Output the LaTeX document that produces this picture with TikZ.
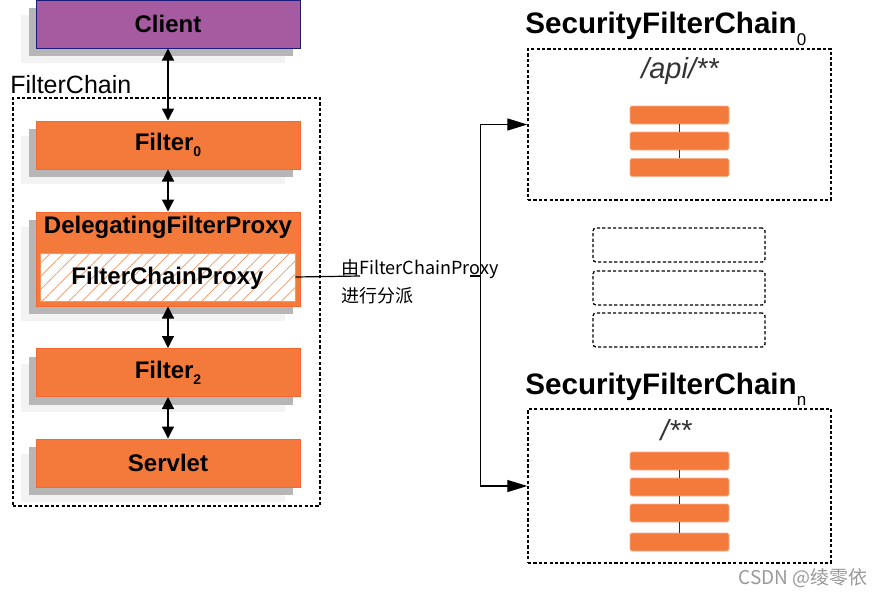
\documentclass[tikz,border=0pt]{standalone}
\usepackage{fontspec}
\setmainfont{Liberation Sans}
\newfontfamily\cjkfont{Noto Sans CJK SC}
\usetikzlibrary{arrows.meta,shadows,patterns.meta}

\definecolor{springorange}{HTML}{F47A3C}
\definecolor{springpurple}{HTML}{A65BA1}
\definecolor{clientblue}{HTML}{1C1C78}
\definecolor{shadowgray}{HTML}{B6B6B6}
\definecolor{shadowfaint}{HTML}{F3F3F3}

\tikzset{
  shadowed/.style={
    general shadow={shadow xshift=-7.5pt, shadow yshift=-7.5pt, fill=shadowfaint},
    general shadow={shadow xshift=-3.5pt, shadow yshift=-4pt, fill=shadowgray}},
  filterbox/.style={rectangle, shadowed, minimum width=132pt, minimum height=24pt,
    inner sep=0pt, fill=springorange, draw=springorange!85!red, line width=0.5pt,
    font=\fontsize{12}{14}\selectfont\bfseries},
  chainline/.style={line width=0.65pt, dash pattern=on 1.6pt off 1.1pt},
  chainbar/.style={rectangle, rounded corners=0.8pt, minimum width=49.5pt,
    minimum height=9pt, inner sep=0pt, fill=springorange, draw=springorange!60!white,
    line width=0.4pt},
  dblarrow/.style={{Triangle[length=6pt,width=6pt]}-{Triangle[length=6pt,width=6pt]},
    line width=0.65pt},
  toarrow/.style={-{Triangle[length=10pt,width=6pt]}, line width=0.6pt}
}

\begin{document}
\begin{tikzpicture}[x=0.5pt, y=-0.5pt]
    \useasboundingbox (0,0) rectangle (884,596);
%
    \node[chainline, draw, rectangle, minimum width=153.5pt, minimum height=204pt,
      inner sep=0pt] (chain) at (166.5,302) {};
    \node[anchor=base west, inner sep=0pt, font=\fontsize{12.5}{14}\selectfont] (chainlbl)
      at (10,93) {FilterChain};
%
    \node[filterbox, fill=springpurple, draw=clientblue] (client) at (168,24) {Client};
    \node[filterbox] (f0) at (168,145)
      {Filter\raisebox{-3pt}{\fontsize{7}{7}\selectfont 0}};
    \node[filterbox, minimum height=47pt] (dfp) at (168,259) {};
    \node[anchor=base, inner sep=0pt, font=\fontsize{12}{14}\selectfont\bfseries] (dfplbl)
      at (168,233) {DelegatingFilterProxy};
    \node[rectangle, minimum width=127.5pt, minimum height=24pt, inner sep=0pt,
      preaction={fill=white},
      pattern={Lines[angle=45, distance=4.7pt, line width=0.35pt]}, pattern color=springorange!80,
      draw=springorange!80, line width=0.4pt] (fcp) at (167.5,277) {};
    \node[anchor=base, inner sep=0pt, font=\fontsize{12}{14}\selectfont\bfseries] (fcplbl)
      at (167.5,284) {FilterChainProxy};
    \node[filterbox] (f2) at (168,372.5)
      {Filter\raisebox{-3pt}{\fontsize{7}{7}\selectfont 2}};
    \node[filterbox] (servlet) at (168,463) {Servlet};
%
    \draw[dblarrow] (client.south) -- (f0.north);
    \draw[dblarrow] (f0.south) -- (dfp.north);
    \draw[dblarrow] (dfp.south) -- (f2.north);
    \draw[dblarrow] (f2.south) -- (servlet.north);
%
    \node[anchor=base west, inner sep=0pt, align=left,
      font=\cjkfont\fontsize{9}{14}\selectfont] (dispatch) at (341,302)
      {由FilterChainProxy\\进行分派};
    \coordinate (cutA) at (360,276);
    \coordinate (cutB) at (470,276);
    \coordinate (disp) at (480.5,276);
    \draw[line width=0.6pt] (fcp.east) -- (cutA);
    \draw[line width=0.6pt] (cutB) -- (disp);
%
    \node[anchor=base west, inner sep=0pt, font=\fontsize{14.8}{16}\selectfont\bfseries] (sfc0lbl)
      at (525,33) {SecurityFilterChain\raisebox{-6pt}{\fontsize{8.5}{9}\selectfont\mdseries 0}};
    \node[chainline, draw, rectangle, minimum width=151.5pt, minimum height=75.5pt,
      inner sep=0pt] (sfc0) at (679.5,124.5) {};
    \node[font=\fontsize{14.5}{16}\selectfont\itshape, text=black!80, inner sep=0pt] (api)
      at (680,71) {/api/**};
    \node[chainbar] (a1) at (679.5,115) {};
    \node[chainbar] (a2) at (679.5,141) {};
    \node[chainbar] (a3) at (679.5,167.5) {};
    \draw[line width=0.4pt, black!80] (a1.south) -- (a2.north);
    \draw[line width=0.4pt, black!80] (a2.south) -- (a3.north);
%
    \node[chainline, draw, rectangle, rounded corners=1.5pt, minimum width=86pt,
      minimum height=17pt] (more1) at (679,245) {};
    \node[chainline, draw, rectangle, rounded corners=1.5pt, minimum width=86pt,
      minimum height=17pt] (more2) at (679,288) {};
    \node[chainline, draw, rectangle, rounded corners=1.5pt, minimum width=86pt,
      minimum height=17pt] (more3) at (679,330) {};
%
    \node[anchor=base west, inner sep=0pt, font=\fontsize{14.8}{16}\selectfont\bfseries] (sfcnlbl)
      at (525,394) {SecurityFilterChain\raisebox{-5.5pt}{\fontsize{8.5}{9}\selectfont\mdseries n}};
    \node[chainline, draw, rectangle, minimum width=151.5pt, minimum height=77pt,
      inner sep=0pt] (sfcn) at (679.5,486) {};
    \node[font=\fontsize{14.5}{16}\selectfont\itshape, text=black!80, inner sep=0pt] (all)
      at (676,430) {/**};
    \node[chainbar] (b1) at (679.5,461) {};
    \node[chainbar] (b2) at (679.5,487) {};
    \node[chainbar] (b3) at (679.5,513) {};
    \node[chainbar] (b4) at (679.5,542) {};
    \draw[line width=0.4pt, black!80] (b1.south) -- (b2.north);
    \draw[line width=0.4pt, black!80] (b2.south) -- (b3.north);
    \draw[line width=0.4pt, black!80] (b3.south) -- (b4.north);
%
    \draw[toarrow] (disp) |- (sfc0.west);
    \draw[toarrow] (disp) |- (sfcn.west);
%
    \node[anchor=base east, inner sep=0pt, text=black!40,
      font=\cjkfont\fontsize{9.5}{11}\selectfont] (mark) at (868,584) {CSDN @绫零依};
  \end{tikzpicture}
\end{document}
